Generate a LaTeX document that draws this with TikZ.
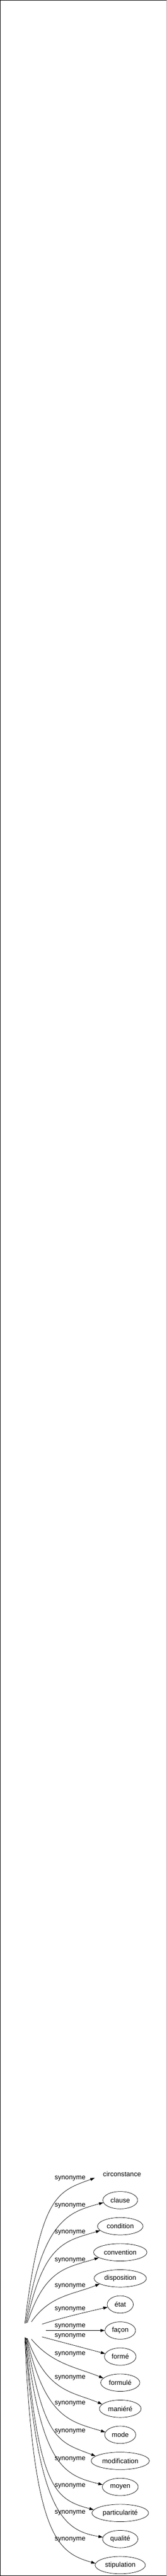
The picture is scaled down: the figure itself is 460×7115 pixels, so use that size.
\documentclass[tikz,border=0pt]{standalone}
\usepackage{fontspec}
\setmainfont{Liberation Sans}
\usetikzlibrary{shapes.geometric,arrows.meta}
\begin{document}
\begin{tikzpicture}[x=1pt, y=1pt, font=\fontsize{18.67}{22}\selectfont,
        word/.style={ellipse, draw, line width=1pt, inner xsep=7pt, minimum width=72pt, minimum height=48pt},
        link/.style={line width=1pt, -{Triangle[length=12pt,width=8pt]}}]
            \useasboundingbox (0,0) rectangle (460,7115);
            \draw[line width=1.5pt] (0.75,0) -- (0.75,7114.25) -- (459,7114.25);
            \draw[line width=2pt] (0,1) -- (460,1);
            \draw[gray!60, line width=1pt] (459.5,0) -- (459.5,7115);
            \node[ellipse, minimum width=72pt, minimum height=48pt] (node0) at (91,678) {};
            \node[ellipse, inner xsep=7pt, minimum height=48pt] (node1) at (337,1110) {circonstance};
            \foreach \word [count = \xi from 2] in {clause, condition, convention, disposition, état, façon, formé, formulé, maniéré, mode, modification, moyen, particularité, qualité, stipulation}
                {
                    \node[word] (node\xi) at (332, {1110 - 72*(\xi - 1)}) {\word};
                }
            \foreach \y [count = \xi] in {1098, 1023, 948, 872, 800, 736, 689, 662, 613, 548, 476, 400, 323, 249, 175, 101}
                {
                    \node[inner sep=0pt] (nodetext\xi) at (193.5,\y) {synonyme};
                }
            \foreach \xi/\a/\o/\la/\b/\i/\lb in {1/140/83/358/188/200/110, 2/135/81/296/188/196/95, 3/130/78/227/192/197/100, 4/125/72/160/194/198/90,
                    5/100/55/90/195/202/80, 6/35/18/60/192/193/60, 7/0/0/50/180/180/50, 8/-35/-15/50/169/165/50,
                    9/-100/-50/90/165/158/80, 10/-125/-70/160/166/157/90, 11/-128/-77/228/170/163/100, 12/-131/-80/290/169/159/110,
                    13/-134/-83/358/173/166/110, 14/-136/-85/420/173/165/110, 15/-138/-86/487/174/170/110, 16/-140/-87.5/550/176/164/110}
                {
                    \draw[link] (node0.\a) .. controls +(\o:\la) and +(\i:\lb) .. (node\xi.\b);
                }
        \end{tikzpicture}
\end{document}
